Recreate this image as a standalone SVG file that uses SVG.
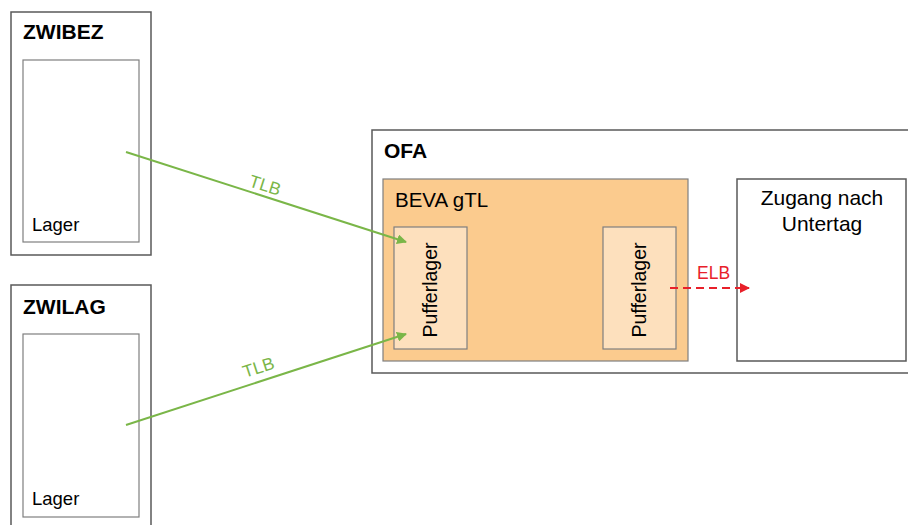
<svg xmlns="http://www.w3.org/2000/svg" width="908" height="525" viewBox="0 0 908 525">
<defs>
<style>
text{font-family:"Liberation Sans",Arial,sans-serif;fill:#000}
.outer{fill:#fff;stroke:#595959;stroke-width:1.5}
.inner{fill:#fff;stroke:#7f7f7f;stroke-width:1.2}
.title{font-size:21px;font-weight:bold}
.lbl{font-size:18.5px}
.tlb{stroke:#7ab648;stroke-width:2;fill:none}
.elb{stroke:#e8202a;stroke-width:2;fill:none;stroke-dasharray:8 5}
</style>
<marker id="ag" viewBox="0 0 10 10" refX="9" refY="5" markerWidth="5" markerHeight="5" orient="auto" markerUnits="strokeWidth"><path d="M0,0 L10,5 L0,10 z" fill="#7ab648"/></marker>
<marker id="ar" viewBox="0 0 10 10" refX="9" refY="5" markerWidth="5" markerHeight="5" orient="auto" markerUnits="strokeWidth"><path d="M0,0 L10,5 L0,10 z" fill="#e8202a"/></marker>
</defs>
<rect width="908" height="525" fill="#fff"/>
<g id="zwibez">
<rect class="outer" x="11" y="12" width="140" height="243"/>
<text class="title" x="23" y="39">ZWIBEZ</text>
<rect class="inner" x="23" y="60" width="116" height="182"/>
<text class="lbl" x="32" y="231">Lager</text>
</g>
<g id="zwilag">
<rect class="outer" x="11" y="285" width="140" height="250"/>
<text class="title" x="23" y="314">ZWILAG</text>
<rect class="inner" x="23" y="334" width="116" height="183"/>
<text class="lbl" x="32" y="505">Lager</text>
</g>
<g id="ofa">
<rect class="outer" x="372" y="130" width="545" height="243"/>
<text class="title" x="384" y="158">OFA</text>
</g>
<g id="beva">
<rect x="383" y="179" width="305" height="182" fill="#fbcb8e" stroke="#7f7f7f" stroke-width="1.2"/>
<text x="395" y="207" style="font-size:20.5px">BEVA gTL</text>
</g>
<g id="puffer1">
<rect x="394" y="227" width="73" height="122" fill="#fde0bd" stroke="#7f7f7f" stroke-width="1.2"/>
<text x="0" y="0" text-anchor="middle" style="font-size:19.5px" transform="translate(437,290) rotate(-90)">Pufferlager</text>
</g>
<g id="puffer2">
<rect x="603" y="227" width="73" height="122" fill="#fde0bd" stroke="#7f7f7f" stroke-width="1.2"/>
<text x="0" y="0" text-anchor="middle" style="font-size:19.5px" transform="translate(646,290) rotate(-90)">Pufferlager</text>
</g>
<g id="zugang">
<rect class="outer" x="737" y="179" width="169" height="182" stroke="#7f7f7f" stroke-width="1.2"/>
<text x="822" y="205" text-anchor="middle" style="font-size:21px">Zugang nach</text>
<text x="822" y="231" text-anchor="middle" style="font-size:21px">Untertag</text>
</g>
<g id="connectors">
<line class="tlb" x1="126" y1="152" x2="406" y2="242" marker-end="url(#ag)"/>
<text transform="translate(248,186) rotate(17.8)" style="font-size:17.5px;fill:#7ab648">TLB</text>
<line class="tlb" x1="126" y1="425" x2="406" y2="334" marker-end="url(#ag)"/>
<text transform="translate(245,378) rotate(-18)" style="font-size:17.5px;fill:#7ab648">TLB</text>
<line class="elb" x1="670" y1="288" x2="749" y2="288" marker-end="url(#ar)"/>
<text x="697" y="279" style="font-size:17.5px;fill:#e8202a">ELB</text>
</g>
</svg>
